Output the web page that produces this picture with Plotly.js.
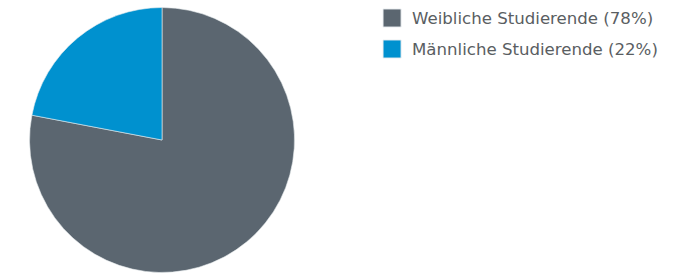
<!DOCTYPE html>
<html>
<head>
<meta charset="utf-8">
<script src="https://cdn.plot.ly/plotly-3.0.1.min.js"></script>
<style>html,body{margin:0;padding:0;background:#fff;}#chart{width:674px;height:275px;}</style>
</head>
<body>
<div id="chart"></div>
<script>
const labels = ["Weibliche Studierende (78%)", "Männliche Studierende (22%)"];
const values = [78, 22];
const colors = ["#5b6670", "#0091cf"];

const data = [{
  type: "pie",
  labels: labels,
  values: values,
  sort: false,
  direction: "clockwise",
  rotation: 0,
  textinfo: "none",
  hoverinfo: "label",
  marker: {colors: colors, line: {color: "#e8ecef", width: 0.6}},
  domain: {x: [0.0438, 0.4370], y: [0.0091, 0.9727]}
}];

const layout = {
  width: 674, height: 275,
  margin: {l: 0, r: 0, t: 0, b: 0},
  paper_bgcolor: "#fff",
  showlegend: true,
  legend: {
    x: 0.552, y: 1.0, xanchor: "left", yanchor: "top",
    font: {family: "DejaVu Sans, sans-serif", size: 16.6, color: "#5a5e62"},
    bgcolor: "rgba(0,0,0,0)"
  }
};

Plotly.newPlot("chart", data, layout, {displayModeBar: false, staticPlot: true}).then(function(gd){
  const items = gd.querySelectorAll(".legend .traces");
  items.forEach(function(el, i){
    el.setAttribute("transform", "translate(0," + (18 + i * 31) + ")");
    el.querySelectorAll(".legendpoints path").forEach(function(p){
      p.setAttribute("transform", "translate(20,0) scale(1.5)");
    });
  });
});
</script>
</body>
</html>
